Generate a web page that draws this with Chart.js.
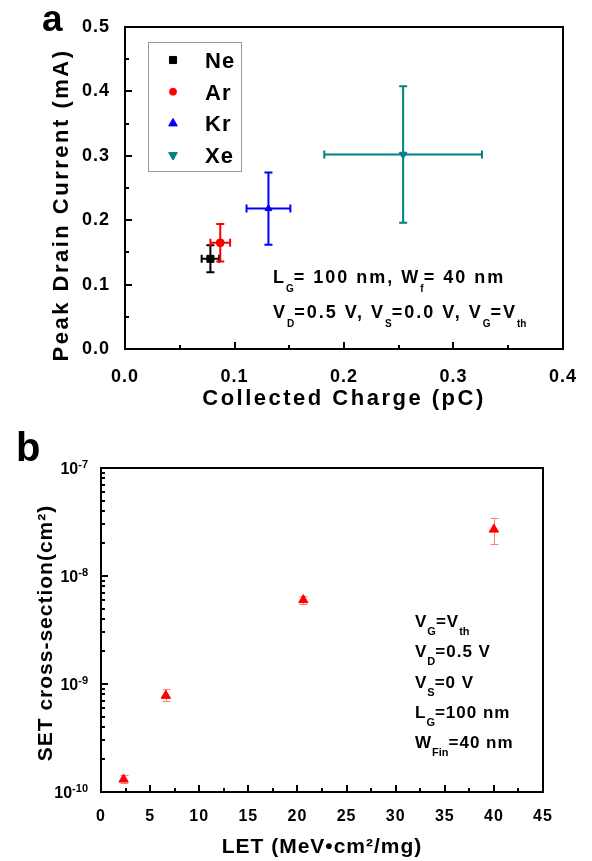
<!DOCTYPE html>
<html>
<head>
<meta charset="utf-8">
<script src="https://cdn.jsdelivr.net/npm/chart.js@4.4.1/dist/chart.umd.min.js"></script>
<style>
  html, body { margin: 0; padding: 0; background: #fff; }
  #wrap { position: relative; width: 592px; height: 861px; }
  canvas { position: absolute; left: 0; }
  #chartA { top: 0; }
  #chartB { top: 420px; }
</style>
</head>
<body>
<div id="wrap">
  <canvas id="chartA" width="592" height="420"></canvas>
  <canvas id="chartB" width="592" height="441"></canvas>
</div>
<script>
// ---- panel a: peak drain current vs collected charge ----
const ions = ['Ne', 'Ar', 'Kr', 'Xe'];
const collectedCharge = [0.078, 0.087, 0.131, 0.254];   // pC
const chargeErr = [0.008, 0.009, 0.020, 0.072];
const peakCurrent = [0.140, 0.165, 0.218, 0.302];       // mA
const currentErr = [0.021, 0.029, 0.056, 0.106];
const chargeTicks = [0, 0.1, 0.2, 0.3, 0.4];
const chargeTickLabels = ['0.0', '0.1', '0.2', '0.3', '0.4'];
const currentTicks = [0, 0.1, 0.2, 0.3, 0.4, 0.5];
const currentTickLabels = ['0.0', '0.1', '0.2', '0.3', '0.4', '0.5'];

// ---- panel b: SET cross-section vs LET ----
const letValues = [2.3, 6.6, 20.6, 40.0];                // MeV cm2/mg
const setCross = [1.31e-10, 7.8e-10, 6.0e-9, 2.7e-8];    // cm2
const setErrHigh = [1.45e-10, 8.9e-10, 6.5e-9, 3.45e-8];
const setErrLow = [1.2e-10, 7.0e-10, 5.5e-9, 1.96e-8];
const letTicks = [0, 5, 10, 15, 20, 25, 30, 35, 40, 45];
const letTickLabels = ['0', '5', '10', '15', '20', '25', '30', '35', '40', '45'];
const setTicks = [1e-10, 1e-9, 1e-8, 1e-7];
const setTickExp = ['-10', '-9', '-8', '-7'];

const FONT = '"Liberation Sans", Arial, Helvetica, sans-serif';
const ionColors = ['#000000', '#ff0000', '#0000ff', '#008080'];
const ionMarkers = ['rect', 'circle', 'triangle', 'triangle'];
const ionRadius = [5, 4, 4, 4.5];

function richText(ctx, parts, x, y, size, spacing, subSize, subDy) {
    let cx = x;
    parts.forEach(([txt, sub]) => {
        ctx.font = `bold ${sub ? subSize : size}px ${FONT}`;
        ctx.letterSpacing = (sub ? 0 : spacing) + 'px';
        ctx.fillText(txt, cx, sub ? y + subDy : y);
        cx += ctx.measureText(txt).width;
    });
}

function plainText(ctx, txt, x, y, size, spacing, align, rot) {
    ctx.save();
    ctx.translate(x, y);
    if (rot) ctx.rotate(rot);
    ctx.font = `bold ${size}px ${FONT}`;
    ctx.letterSpacing = spacing + 'px';
    ctx.textAlign = align || 'left';
    ctx.textBaseline = 'alphabetic';
    ctx.fillText(txt, 0, 0);
    ctx.restore();
}

// box around the plot plus inward tick marks
function frameAndTicks(xMajor, xMinor, yMajor, yMinor) {
    return {
        id: 'frameAndTicks',
        beforeDraw(chart) {
            chart.ctx.letterSpacing = '1px';
        },
        afterDatasetsDraw(chart) {
            const { ctx, chartArea: a, scales: { x, y } } = chart;
            ctx.save();
            ctx.strokeStyle = '#000';
            ctx.lineWidth = 2;
            ctx.strokeRect(a.left, a.top, a.right - a.left, a.bottom - a.top);
            ctx.beginPath();
            const mark = (vals, len, horiz) => vals.forEach(v => {
                if (horiz) {
                    const px = Math.round(x.getPixelForValue(v));
                    ctx.moveTo(px, a.bottom);
                    ctx.lineTo(px, a.bottom - len);
                } else {
                    const py = Math.round(y.getPixelForValue(v));
                    ctx.moveTo(a.left, py);
                    ctx.lineTo(a.left + len, py);
                }
            });
            mark(xMajor, 7, true);
            mark(xMinor, 4, true);
            mark(yMajor, 7, false);
            mark(yMinor, 4, false);
            ctx.stroke();
            ctx.restore();
        }
    };
}

const errorBarsA = {
    id: 'errorBarsA',
    beforeDatasetsDraw(chart) {
        const { ctx, scales: { x, y } } = chart;
        ctx.save();
        ctx.lineWidth = 2;
        ions.forEach((ion, i) => {
            const px = x.getPixelForValue(collectedCharge[i]);
            const py = y.getPixelForValue(peakCurrent[i]);
            const x0 = x.getPixelForValue(collectedCharge[i] - chargeErr[i]);
            const x1 = x.getPixelForValue(collectedCharge[i] + chargeErr[i]);
            const y0 = y.getPixelForValue(peakCurrent[i] - currentErr[i]);
            const y1 = y.getPixelForValue(peakCurrent[i] + currentErr[i]);
            ctx.strokeStyle = ionColors[i];
            ctx.beginPath();
            ctx.moveTo(x0, py); ctx.lineTo(x1, py);
            ctx.moveTo(x0, py - 4); ctx.lineTo(x0, py + 4);
            ctx.moveTo(x1, py - 4); ctx.lineTo(x1, py + 4);
            ctx.moveTo(px, y0); ctx.lineTo(px, y1);
            ctx.moveTo(px - 4, y0); ctx.lineTo(px + 4, y0);
            ctx.moveTo(px - 4, y1); ctx.lineTo(px + 4, y1);
            ctx.stroke();
        });
        ctx.restore();
    }
};

const textA = {
    id: 'textA',
    afterDraw(chart) {
        const { ctx, chartArea: a } = chart;
        ctx.save();
        ctx.fillStyle = '#000';
        plainText(ctx, 'a', 42, 31, 37, 0);
        plainText(ctx, 'Peak Drain Current (mA)', 68, 205, 22, 2.5, 'center', -Math.PI / 2);
        plainText(ctx, 'Collected Charge (pC)', (a.left + a.right) / 2, 405, 22, 2.5, 'center');

        // legend
        const lx = a.left + 23, ly = a.top + 15;
        ctx.strokeStyle = '#999';
        ctx.lineWidth = 1;
        ctx.strokeRect(lx + 0.5, ly + 0.5, 93, 129);
        chart.data.datasets.forEach((ds, i) => {
            const cy = ly + 18 + i * 31.7;
            ctx.fillStyle = ds.backgroundColor;
            ctx.strokeStyle = ds.borderColor;
            Chart.helpers.drawPoint(ctx, {
                pointStyle: ds.pointStyle, radius: ds.pointStyle === 'circle' ? 3.5 : 5,
                rotation: ds.rotation, borderWidth: 1
            }, lx + 25, cy);
            ctx.fillStyle = '#000';
            plainText(ctx, ds.label, lx + 57, cy + 8, 22, 1);
        });

        ctx.fillStyle = '#000';
        ctx.textAlign = 'left';
        ctx.textBaseline = 'alphabetic';
        richText(ctx, [['L'], ['G', 1], ['= 100 nm, W'], ['f', 1], ['= 40 nm']], 273, 283, 18, 2, 10, 9);
        richText(ctx, [['V'], ['D', 1], ['=0.5 V, V'], ['S', 1], ['=0.0 V, V'], ['G', 1], ['=V'], ['th', 1]], 273, 318, 18, 2, 10, 9);
        ctx.restore();
    }
};

new Chart(document.getElementById('chartA'), {
    type: 'scatter',
    data: {
        datasets: ions.map((ion, i) => ({
            label: ion,
            data: [{ x: collectedCharge[i], y: peakCurrent[i] }],
            pointStyle: ionMarkers[i],
            rotation: ion === 'Xe' ? 180 : 0,
            pointRadius: ionRadius[i],
            backgroundColor: ionColors[i],
            borderColor: ionColors[i],
            borderWidth: 1
        }))
    },
    options: {
        responsive: false,
        animation: false,
        events: [],
        layout: { padding: { top: 27, right: 29, left: 0, bottom: 0 } },
        plugins: { legend: { display: false }, tooltip: { enabled: false } },
        scales: {
            x: {
                type: 'linear', min: 0, max: 0.4,
                grid: { display: false }, border: { display: false },
                afterBuildTicks: s => { s.ticks = chargeTicks.map(v => ({ value: v })); },
                afterFit: s => { s.height = 71; },
                ticks: {
                    padding: 9, color: '#000', maxRotation: 0,
                    font: { family: FONT, size: 18, weight: 'bold' },
                    callback: (v, i) => chargeTickLabels[i]
                }
            },
            y: {
                type: 'linear', min: 0, max: 0.5,
                grid: { display: false }, border: { display: false },
                afterBuildTicks: s => { s.ticks = currentTicks.map(v => ({ value: v })); },
                afterFit: s => { s.width = 125; },
                ticks: {
                    padding: 7, color: '#000',
                    font: { family: FONT, size: 18, weight: 'bold' },
                    callback: (v, i) => currentTickLabels[i]
                }
            }
        }
    },
    plugins: [
        frameAndTicks([0.1, 0.2, 0.3], [0.05, 0.15, 0.25, 0.35],
                      [0.1, 0.2, 0.3, 0.4], [0.05, 0.15, 0.25, 0.35, 0.45]),
        errorBarsA, textA
    ]
});

// ---- panel b ----
const setMinor = [];
[1e-10, 1e-9, 1e-8].forEach(d => { for (let k = 2; k <= 9; k++) setMinor.push(k * d); });

const errorBarsB = {
    id: 'errorBarsB',
    beforeDatasetsDraw(chart) {
        const { ctx, scales: { x, y } } = chart;
        ctx.save();
        ctx.lineWidth = 1;
        ctx.strokeStyle = '#ff8080';
        ctx.beginPath();
        letValues.forEach((v, i) => {
            const px = Math.round(x.getPixelForValue(v)) + 0.5;
            const y0 = Math.round(y.getPixelForValue(setErrLow[i])) + 0.5;
            const y1 = Math.round(y.getPixelForValue(setErrHigh[i])) + 0.5;
            ctx.moveTo(px, y0); ctx.lineTo(px, y1);
            ctx.moveTo(px - 4, y0); ctx.lineTo(px + 4, y0);
            ctx.moveTo(px - 4, y1); ctx.lineTo(px + 4, y1);
        });
        ctx.stroke();
        ctx.restore();
    }
};

const textB = {
    id: 'textB',
    afterDraw(chart) {
        const { ctx, chartArea: a, scales: { y } } = chart;
        ctx.save();
        ctx.fillStyle = '#000';
        plainText(ctx, 'b', 16, 41, 40, 0);
        plainText(ctx, 'SET cross-section(cm\u00b2)', 52, 213, 21, 1, 'center', -Math.PI / 2);
        plainText(ctx, 'LET (MeV\u2022cm\u00b2/mg)', (a.left + a.right) / 2, 433, 21, 1, 'center');

        // log tick labels 10^n
        ctx.textBaseline = 'alphabetic';
        setTicks.forEach((v, i) => {
            const py = y.getPixelForValue(v);
            ctx.letterSpacing = '0px';
            ctx.textAlign = 'right';
            ctx.font = `bold 11px ${FONT}`;
            const ew = ctx.measureText(setTickExp[i]).width;
            ctx.fillText(setTickExp[i], 88, py);
            ctx.font = `bold 16px ${FONT}`;
            ctx.fillText('10', 88 - ew, py + 6);
        });

        ctx.textAlign = 'left';
        const lines = [
            [['V'], ['G', 1], ['=V'], ['th', 1]],
            [['V'], ['D', 1], ['=0.5 V']],
            [['V'], ['S', 1], ['=0 V']],
            [['L'], ['G', 1], ['=100 nm']],
            [['W'], ['Fin', 1], ['=40 nm']]
        ];
        lines.forEach((parts, i) => richText(ctx, parts, 415, 207 + i * 30.3, 17, 1, 11, 8));
        ctx.restore();
    }
};

new Chart(document.getElementById('chartB'), {
    type: 'scatter',
    data: {
        datasets: [{
            label: 'SET cross-section',
            data: letValues.map((v, i) => ({ x: v, y: setCross[i] })),
            pointStyle: 'triangle',
            pointRadius: 5.4,
            backgroundColor: '#ff0000',
            borderColor: '#ff0000',
            borderWidth: 1
        }]
    },
    options: {
        responsive: false,
        animation: false,
        events: [],
        layout: { padding: { top: 48, right: 49, left: 0, bottom: 0 } },
        plugins: { legend: { display: false }, tooltip: { enabled: false } },
        scales: {
            x: {
                type: 'linear', min: 0, max: 45,
                grid: { display: false }, border: { display: false },
                afterBuildTicks: s => { s.ticks = letTicks.map(v => ({ value: v })); },
                afterFit: s => { s.height = 69; },
                ticks: {
                    padding: 7, color: '#000', maxRotation: 0,
                    font: { family: FONT, size: 16, weight: 'bold' },
                    callback: (v, i) => letTickLabels[i]
                }
            },
            y: {
                type: 'logarithmic', min: 1e-10, max: 1e-7,
                grid: { display: false }, border: { display: false },
                afterFit: s => { s.width = 101; },
                ticks: { display: false }
            }
        }
    },
    plugins: [
        frameAndTicks([5, 10, 15, 20, 25, 30, 35, 40],
                      [2.5, 7.5, 12.5, 17.5, 22.5, 27.5, 32.5, 37.5, 42.5],
                      [1e-9, 1e-8], setMinor),
        errorBarsB, textB
    ]
});
</script>
</body>
</html>
